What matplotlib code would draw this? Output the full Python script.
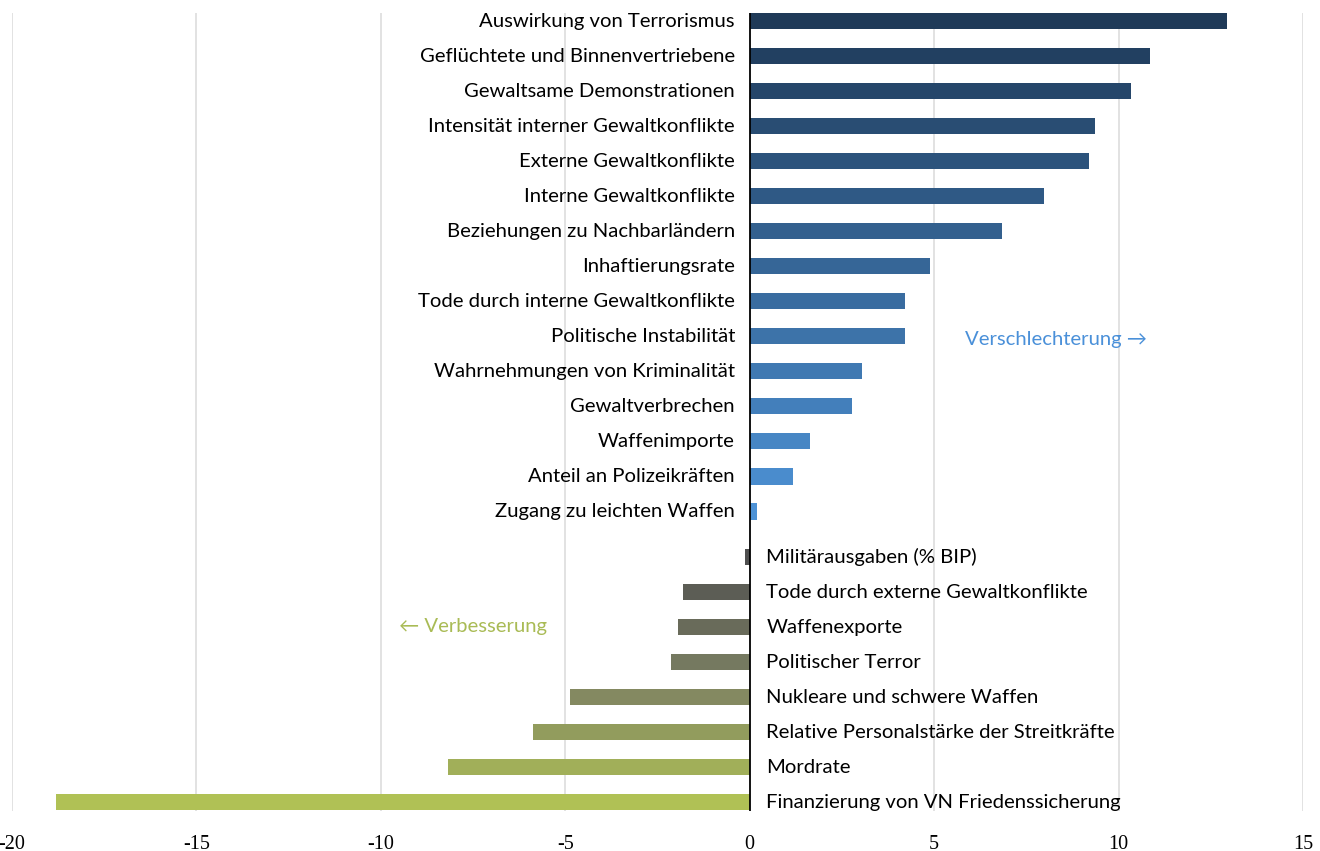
import numpy as np
import matplotlib.pyplot as plt
from matplotlib.colors import LinearSegmentedColormap

plt.rcParams['axes.unicode_minus'] = False

categories = ['Auswirkung von Terrorismus', 'Geflüchtete und Binnenvertriebene',
              'Gewaltsame Demonstrationen', 'Intensität interner Gewaltkonflikte',
              'Externe Gewaltkonflikte', 'Interne Gewaltkonflikte',
              'Beziehungen zu Nachbarländern', 'Inhaftierungsrate',
              'Tode durch interne Gewaltkonflikte', 'Politische Instabilität',
              'Wahrnehmungen von Kriminalität', 'Gewaltverbrechen', 'Waffenimporte',
              'Anteil an Polizeikräften', 'Zugang zu leichten Waffen',
              'Militärausgaben (% BIP)', 'Tode durch externe Gewaltkonflikte',
              'Waffenexporte', 'Politischer Terror', 'Nukleare und schwere Waffen',
              'Relative Personalstärke der Streitkräfte', 'Mordrate',
              'Finanzierung von VN Friedenssicherung']
values = [12.93, 10.84, 10.35, 9.35, 9.21, 7.99, 6.83, 4.88, 4.20, 4.20, 3.04, 2.76,
          1.63, 1.17, 0.19, -0.14, -1.82, -1.95, -2.14, -4.88, -5.88, -8.18, -18.81]
xticks = [-20, -15, -10, -5, 0, 5, 10, 15]

vals = np.array(values)
n_pos = int((vals > 0).sum())
n_neg = len(vals) - n_pos
# extra space between the two groups
y = np.arange(len(vals)) + np.where(vals > 0, 0, 0.3)

blue = LinearSegmentedColormap.from_list('b', ['#1f3a58', '#4d92d6'])
green = LinearSegmentedColormap.from_list('g', ['#4f4f4f', '#7c8063', '#b0c155'])
colors = [blue(i / (n_pos - 1)) for i in range(n_pos)] + \
         [green(i / (n_neg - 1)) for i in range(n_neg)]

fig = plt.figure(figsize=(13.2, 8.51), dpi=100)
ax = fig.add_axes([12 / 1320, 1 - 811 / 851, 1291 / 1320, 798 / 851])

ax.barh(y, vals, height=0.46, color=colors, zorder=2)
ax.set_xlim(-20, 15)
ax.set_ylim(y[-1] + 0.25, -0.23)
ax.set_xticks(xticks)
ax.set_yticks([])
for x in xticks:
    if x != 0:
        ax.axvline(x, color='#dddddd', lw=1.2, zorder=0)
ax.axvline(0, color='black', lw=1.3, zorder=3)
for s in ax.spines.values():
    s.set_visible(False)
ax.tick_params(axis='x', length=0, pad=17)
for lab in ax.get_xticklabels():
    lab.set_fontfamily('Liberation Serif')
    lab.set_fontsize(14.5)

for yi, c, v in zip(y, categories, vals):
    if v > 0:
        ax.text(-0.4, yi, c, ha='right', va='center', fontsize=14.6, family='Lato')
    else:
        ax.text(0.45, yi, c, ha='left', va='center', fontsize=14.6, family='Lato')

ax.text(5.85, 9.1, 'Verschlechterung \u2192', ha='left', va='center', fontsize=14.6,
        family=['Lato', 'DejaVu Sans'], color='#4a90d9')
ax.text(-9.5, 17.28, '\u2190 Verbesserung', ha='left', va='center', fontsize=14.6,
        family=['Lato', 'DejaVu Sans'], color='#a9bb55')

fig.savefig('out.png', dpi=100)
